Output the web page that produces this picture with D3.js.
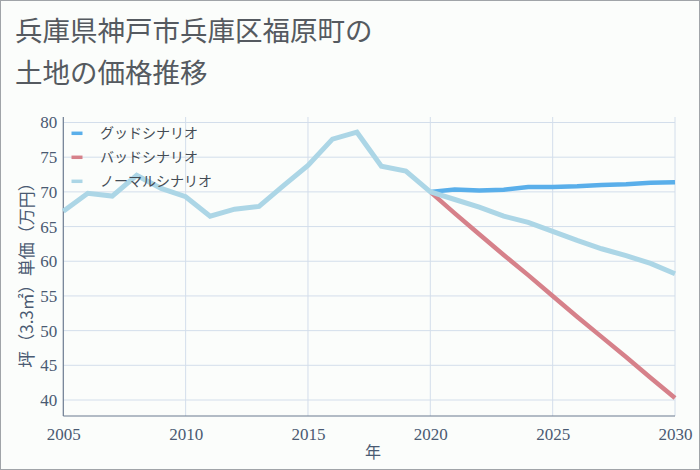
<!DOCTYPE html>
<html><head><meta charset="utf-8">
<script src="https://cdn.jsdelivr.net/npm/d3@7"></script>
<style>
html,body{margin:0;padding:0;background:#fff;}
svg{display:block;}
</style></head>
<body>
<script>
const titleLines = ["兵庫県神戸市兵庫区福原町の", "土地の価格推移"];
const yTicks = [40, 45, 50, 55, 60, 65, 70, 75, 80];
const xTicks = [2005, 2010, 2015, 2020, 2025, 2030];
const seriesNames = ["グッドシナリオ", "バッドシナリオ", "ノーマルシナリオ"];
const seriesColors = ["#5aafea", "#d6818a", "#acd6e6"];
const histYears = [2005,2006,2007,2008,2009,2010,2011,2012,2013,2014,2015,2016,2017,2018,2019,2020];
const histValues = [67.2,69.8,69.4,72.4,70.5,69.3,66.5,67.5,67.9,70.9,73.8,77.6,78.6,73.7,73.0,70.0];
const fcYears = [2020,2021,2022,2023,2024,2025,2026,2027,2028,2029,2030];
const goodValues = [70.0,70.35,70.2,70.3,70.7,70.7,70.8,71.0,71.1,71.3,71.4];
const badValues = [70.0,66.9,63.9,60.9,58.0,55.0,52.0,49.1,46.2,43.2,40.3];
const normalFc = [70.0,68.9,67.8,66.5,65.6,64.3,63.0,61.8,60.8,59.7,58.2];

const W = 700, H = 470;
const svg = d3.select("body").append("svg").attr("width", W).attr("height", H);
svg.append("rect").attr("x",0.5).attr("y",0.5).attr("width",W-1).attr("height",H-1)
  .attr("fill","#fbfdfb").attr("stroke","#a0a4a8").attr("stroke-width",1);

const x = d3.scaleLinear().domain([2005, 2030]).range([63.3, 675]);
const y = d3.scaleLinear().domain([40, 80]).range([400, 122.5]);
const yBottom = 416, yTop = 117;

const tickColor = "#4a5a72";
// grid
const g = svg.append("g");
g.selectAll(".hg").data(yTicks).join("line")
  .attr("x1", 63.3).attr("x2", 675).attr("y1", d=>y(d)).attr("y2", d=>y(d))
  .attr("stroke", "#d3deeb").attr("stroke-width", 1);
g.selectAll(".vg").data(xTicks.slice(1)).join("line")
  .attr("x1", d=>x(d)).attr("x2", d=>x(d)).attr("y1", yTop).attr("y2", yBottom)
  .attr("stroke", "#d3deeb").attr("stroke-width", 1);

// axes
const yAxis = d3.axisLeft(y).tickValues(yTicks).tickSize(0).tickPadding(6);
const ya = svg.append("g").attr("transform", "translate(63.3,0)").call(yAxis);
ya.select(".domain").remove();
ya.selectAll("text").attr("font-family","'Liberation Serif', serif").attr("font-size",17).attr("fill",tickColor);
const xAxis = d3.axisBottom(x).tickValues(xTicks).tickFormat(d3.format("d")).tickSize(0).tickPadding(12);
const xa = svg.append("g").attr("transform", `translate(0,${yBottom})`).call(xAxis);
xa.select(".domain").remove();
xa.selectAll("text").attr("font-family","'Liberation Serif', serif").attr("font-size",17).attr("fill",tickColor);

svg.append("line").attr("x1",63.3).attr("x2",63.3).attr("y1",yTop).attr("y2",yBottom).attr("stroke","#6b7b90").attr("stroke-width",1.2);
svg.append("line").attr("x1",63.3).attr("x2",675).attr("y1",yBottom).attr("y2",yBottom).attr("stroke","#6b7b90").attr("stroke-width",1.2);

// lines
const line = d3.line().x(d=>x(d[0])).y(d=>y(d[1]));
const goodData = fcYears.map((yr,i)=>[yr, goodValues[i]]);
const badData = fcYears.map((yr,i)=>[yr, badValues[i]]);
const normalData = histYears.map((yr,i)=>[yr, histValues[i]]).concat(fcYears.slice(1).map((yr,i)=>[yr, normalFc[i+1]]));
svg.append("path").attr("d", line(goodData)).attr("fill","none").attr("stroke",seriesColors[0]).attr("stroke-width",4.5);
svg.append("path").attr("d", line(badData)).attr("fill","none").attr("stroke",seriesColors[1]).attr("stroke-width",4.5);
svg.append("path").attr("d", line(normalData)).attr("fill","none").attr("stroke",seriesColors[2]).attr("stroke-width",5);

// legend
const leg = svg.append("g");
seriesNames.forEach((n,i)=>{
  const ly = 133.3 + i*24;
  leg.append("line").attr("x1",71.5).attr("x2",82.5).attr("y1",ly).attr("y2",ly).attr("stroke",seriesColors[i]).attr("stroke-width",3.5);
  leg.append("text").attr("x",100).attr("y",ly).attr("dy","0.35em").text(n)
    .attr("font-family","'Noto Sans CJK JP', sans-serif").attr("font-size",14).attr("fill","#444c55");
});

// title
titleLines.forEach((t,i)=>{
  svg.append("text").attr("x",15).attr("y",41 + i*42).text(t)
    .attr("font-family","'Noto Sans CJK JP', sans-serif").attr("font-size",27.5).attr("fill","#555a60");
});

// axis titles
svg.append("text").attr("transform","translate(27,271) rotate(-90)").attr("text-anchor","middle")
  .attr("dy","0.35em").text("坪（3.3㎡）単価（万円）")
  .attr("font-family","'Noto Sans CJK JP', sans-serif").attr("font-size",17).attr("fill","#4a5a72");
svg.append("text").attr("x",373).attr("y",452).attr("text-anchor","middle").attr("dy","0.35em").text("年")
  .attr("font-family","'Noto Sans CJK JP', sans-serif").attr("font-size",16).attr("fill","#4a5a72");
</script>
</body></html>
